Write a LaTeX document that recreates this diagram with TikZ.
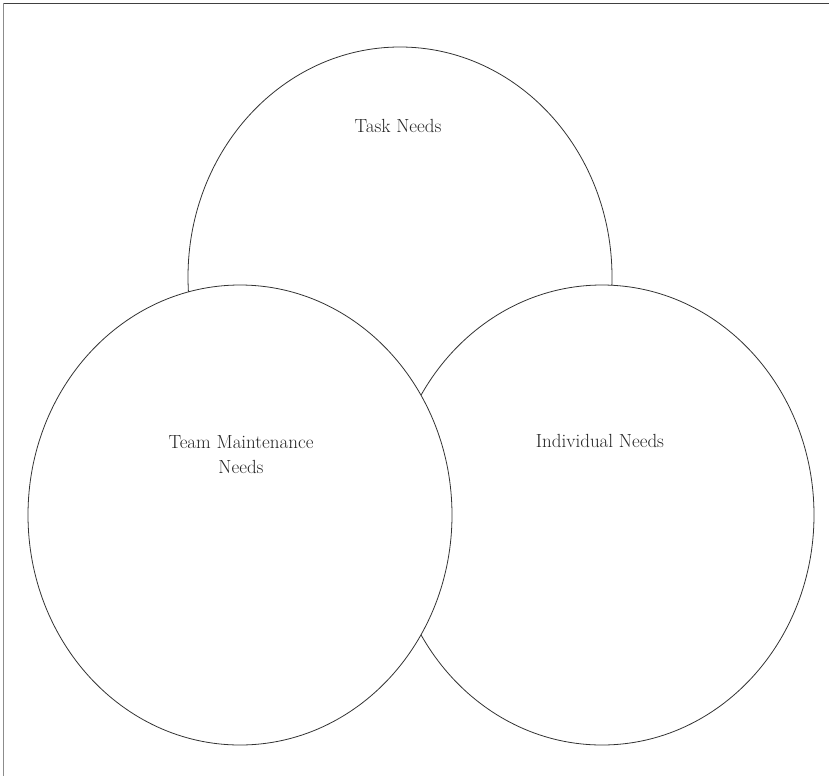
\documentclass[tikz,border=0pt]{standalone}
\usepackage{tikz}
\usetikzlibrary{shapes.geometric,positioning}

\tikzset{
  need/.style={ellipse,draw=black!80,line width=0.8pt,fill=white,
    minimum width=424pt,minimum height=460pt,inner sep=0pt},
  needlabel/.style={font=\fontsize{19}{25}\selectfont,align=center,text=black!85,anchor=base}
}

\begin{document}
\begin{tikzpicture}[x=1pt,y=-1pt]
    \useasboundingbox (0,0) rectangle (829,776);
    \draw [black!75,line width=1pt] (3,3.5) -- (829,3.5);
    \draw [black!45,line width=1.2pt] (3.5,3) -- (3.5,776);
    % three overlapping needs
    \node [need] (task) at (400,277) {};
    \node [need] (indiv) at (602,515) {};
    \node [need] (team) at (240,515) {};
    \node [needlabel] (tasklbl) at (398,132) {Task Needs};
    \node [needlabel] (indivlbl) at (600,447) {Individual Needs};
    \node [needlabel] (teamlbl) at (241,473) {Team Maintenance\\Needs};
\end{tikzpicture}
\end{document}
